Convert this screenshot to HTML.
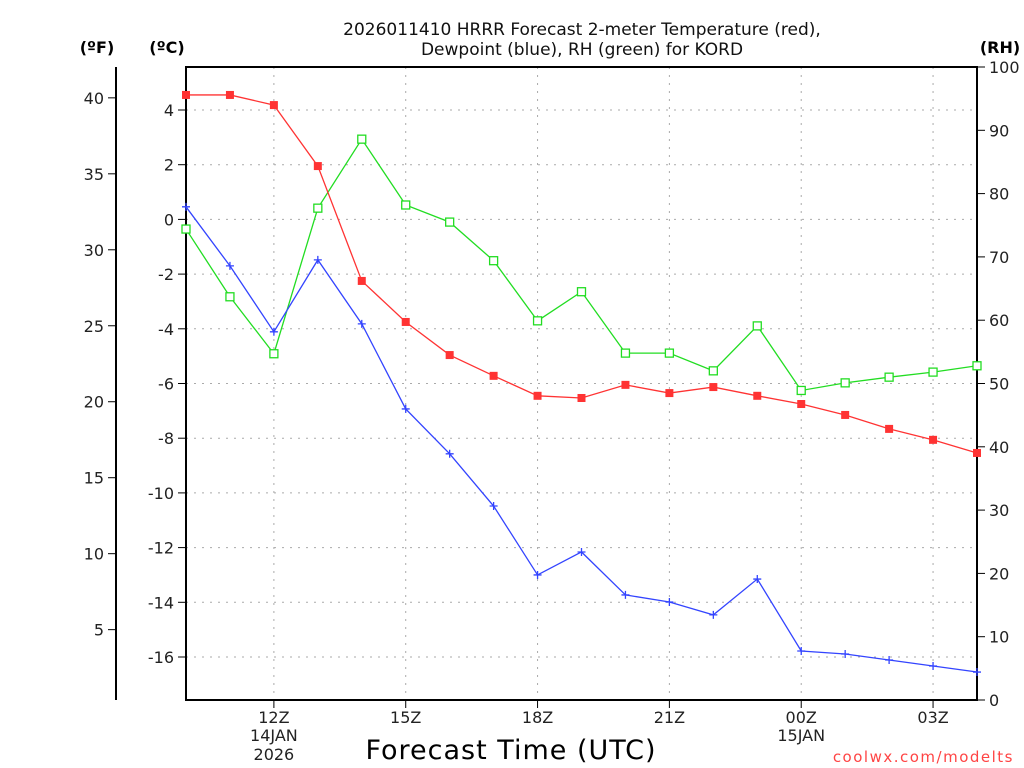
<!DOCTYPE html>
<html><head><meta charset="utf-8"><style>body{margin:0;background:#fff}svg{display:block;font-family:"DejaVu Sans","Liberation Sans",sans-serif}</style></head>
<body>
<svg id="c" width="1024" height="768"></svg>
<script>
const hours=[10,11,12,13,14,15,16,17,18,19,20,21,22,23,24,25,26,27,28];
const tempC=[4.55,4.55,4.18,1.95,-2.25,-3.75,-4.96,-5.72,-6.45,-6.53,-6.05,-6.35,-6.13,-6.45,-6.75,-7.15,-7.66,-8.06,-8.54];
const dewC=[0.46,-1.70,-4.11,-1.48,-3.82,-6.93,-8.57,-10.48,-13.0,-12.16,-13.73,-13.99,-14.46,-13.15,-15.78,-15.89,-16.11,-16.33,-16.55];
const rh=[74.4,63.7,54.7,77.7,88.6,78.2,75.5,69.4,59.9,64.5,54.8,54.8,52.0,59.1,48.9,50.1,51.0,51.8,52.8];
const cTicks=[4,2,0,-2,-4,-6,-8,-10,-12,-14,-16];
const fTicks=[40,35,30,25,20,15,10,5];
const rhTicks=[0,10,20,30,40,50,60,70,80,90,100];
const xTickHours=[12,15,18,21,24,27];
const xTickLabels=["12Z","15Z","18Z","21Z","00Z","03Z"];

const L=186,R=977,T=67,B=700;
const x=h=>L+(h-10)*(R-L)/18;
const yC=c=>219.4-c*27.35;
const yF=f=>yC((f-32)*5/9);
const yR=r=>B-r*(B-T)/100;
const svg=document.getElementById('c');
const NS='http://www.w3.org/2000/svg';
function mk(tag,at,txt){const e=document.createElementNS(NS,tag);for(const k in at)e.setAttribute(k,at[k]);if(txt!==undefined)e.textContent=txt;svg.appendChild(e);return e;}
let e;
// grid
cTicks.forEach(c=>{e=mk('line',{x1:L,x2:R,y1:yC(c),y2:yC(c),stroke:'#aaa','stroke-dasharray':'2,6'});});
xTickHours.forEach(h=>{e=mk('line',{x1:x(h),x2:x(h),y1:T,y2:B,stroke:'#aaa','stroke-dasharray':'2,6'});});
// axes box
e=mk('rect',{x:L,y:T,width:R-L,height:B-T,fill:'none',stroke:'#000','stroke-width':2});
e=mk('line',{x1:116,x2:116,y1:T,y2:B,stroke:'#000','stroke-width':2});
// ticks C
cTicks.forEach(c=>{mk('line',{x1:L-8,x2:L,y1:yC(c),y2:yC(c),stroke:'#000'});e=mk('text',{x:L-12,y:yC(c)+6,'text-anchor':'end','font-size':16,fill:'#222'},c);});
fTicks.forEach(f=>{mk('line',{x1:108,x2:116,y1:yF(f),y2:yF(f),stroke:'#000'});e=mk('text',{x:104,y:yF(f)+6,'text-anchor':'end','font-size':16,fill:'#222'},f);});
rhTicks.forEach(r=>{mk('line',{x1:R,x2:R+8,y1:yR(r),y2:yR(r),stroke:'#000'});e=mk('text',{x:R+12,y:yR(r)+6,'font-size':16,fill:'#222'},r);});
xTickHours.forEach((h,i)=>{mk('line',{x1:x(h),x2:x(h),y1:B,y2:B+8,stroke:'#000'});e=mk('text',{x:x(h),y:B+23,'text-anchor':'middle','font-size':16,fill:'#222'},xTickLabels[i]);});
e=mk('text',{x:x(12),y:741,'text-anchor':'middle','font-size':16,fill:'#222'},'14JAN');
e=mk('text',{x:x(12),y:760,'text-anchor':'middle','font-size':16,fill:'#222'},'2026');
e=mk('text',{x:x(24),y:741,'text-anchor':'middle','font-size':16,fill:'#222'},'15JAN');
// series
function series(vals,yf,color,marker,name){
  const pts=vals.map((v,i)=>[x(hours[i]),yf(v)]);
  e=mk('polyline',{points:pts.map(p=>p.join(',')).join(' '),fill:'none',stroke:color,'stroke-width':1.3});
  
  pts.forEach(p=>{
    if(marker==='fill'){e=mk('rect',{x:p[0]-4,y:p[1]-4,width:8,height:8,fill:color});}
    else if(marker==='open'){e=mk('rect',{x:p[0]-4,y:p[1]-4,width:8,height:8,fill:'#fff',stroke:color,'stroke-width':1.3});}
    else{e=mk('path',{d:`M${p[0]-4},${p[1]}h8M${p[0]},${p[1]-4}v8`,stroke:color,'stroke-width':1.3});}
    
  });
}
series(rh,yR,'#22dd22','open','rh');
series(dewC,yC,'#3344ff','plus','dewpoint');
series(tempC,yC,'#ff3333','fill','temperature');
// titles
e=mk('text',{x:582,y:35,'text-anchor':'middle','font-size':17,fill:'#111'},'2026011410 HRRR Forecast 2-meter Temperature (red),');
e=mk('text',{x:582,y:55,'text-anchor':'middle','font-size':17,fill:'#111'},'Dewpoint (blue), RH (green) for KORD');
e=mk('text',{x:97,y:53,'text-anchor':'middle','font-size':16,'font-weight':'bold'},'(ºF)');
e=mk('text',{x:167,y:53,'text-anchor':'middle','font-size':16,'font-weight':'bold'},'(ºC)');
e=mk('text',{x:1000,y:53,'text-anchor':'middle','font-size':16,'font-weight':'bold'},'(RH)');
e=mk('text',{x:511,y:759,'text-anchor':'middle','font-size':27,fill:'#000','letter-spacing':1},'Forecast Time (UTC)');
e=mk('text',{x:1014,y:762,'text-anchor':'end','font-size':15,fill:'#ff4444','letter-spacing':1.5},'coolwx.com/modelts');
</script>
</body></html>
